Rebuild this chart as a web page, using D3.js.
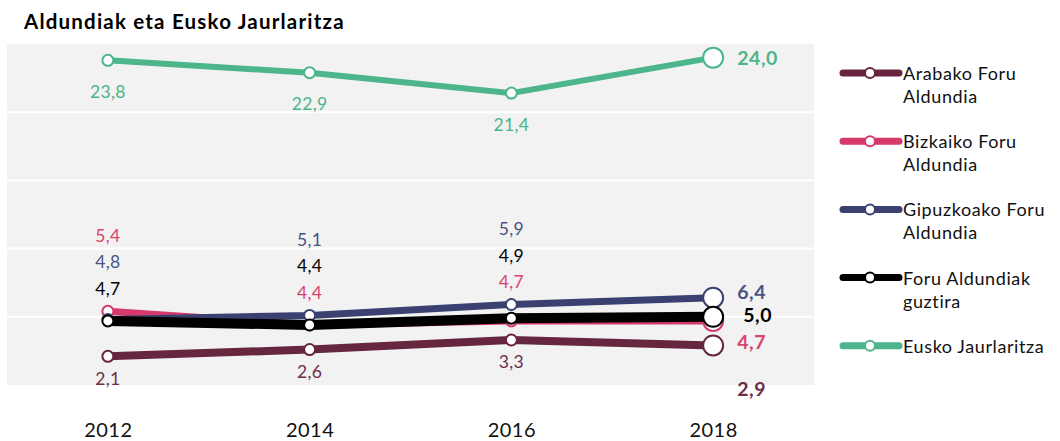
<!DOCTYPE html>
<html>
<head>
<meta charset="utf-8">
<script src="https://cdn.jsdelivr.net/npm/d3@7/dist/d3.min.js"></script>
<style>
  html, body { margin: 0; padding: 0; background: #fff; }
  svg { display: block; }
  text { font-family: "Lato", "DejaVu Sans", sans-serif; }
</style>
</head>
<body>
<script>
// ---- data ----
const years = ["2012", "2014", "2016", "2018"];
const seriesKeys = ["arabako", "bizkaiko", "gipuzkoako", "guztira", "jaurlaritza"];
const legendLabels = [
  ["Arabako Foru", "Aldundia"],
  ["Bizkaiko Foru", "Aldundia"],
  ["Gipuzkoako Foru", "Aldundia"],
  ["Foru Aldundiak", "guztira"],
  ["Eusko Jaurlaritza"]
];
const arabako = [2.1, 2.6, 3.3, 2.9];
const bizkaiko = [5.4, 4.4, 4.7, 4.7];
const gipuzkoako = [4.8, 5.1, 5.9, 6.4];
const guztira = [4.7, 4.4, 4.9, 5.0];
const jaurlaritza = [23.8, 22.9, 21.4, 24.0];
const yTicks = [0, 5, 10, 15, 20, 25];
const title = "Aldundiak eta Eusko Jaurlaritza";

// ---- styles ----
const values = { arabako, bizkaiko, gipuzkoako, guztira, jaurlaritza };
const colors = {
  arabako: "#66263f", bizkaiko: "#d63a6a", gipuzkoako: "#3a4170",
  guztira: "#000000", jaurlaritza: "#4cb58b"
};
const labelColors = {
  arabako: "#6e2d49", bizkaiko: "#d8446f", gipuzkoako: "#4a5282",
  guztira: "#000000", jaurlaritza: "#4cb58b"
};
const widths = { arabako: 8, bizkaiko: 7, gipuzkoako: 7, guztira: 10, jaurlaritza: 6 };
const drawOrder = ["jaurlaritza", "arabako", "bizkaiko", "gipuzkoako", "guztira"];
// end label nudges (layout only)
const endNudge = {
  jaurlaritza: [0, 0], gipuzkoako: [0, -6], guztira: [6, -2],
  bizkaiko: [0, 21], arabako: [0, 43]
};

const W = 1060, H = 441;
const svg = d3.select("body").append("svg").attr("width", W).attr("height", H);

const x = d3.scalePoint().domain(years).range([7, 814]).padding(0.5);
const y = d3.scaleLinear().domain([0, 25]).range([385, 44]);

// background
svg.append("rect").attr("x", 7).attr("y", y(25)).attr("width", 807)
  .attr("height", y(0) - y(25)).attr("fill", "#f2f2f2");

// grid
svg.append("g").selectAll("line").data(yTicks.filter(d => d > 0 && d < 25)).join("line")
  .attr("x1", 7).attr("x2", 814).attr("y1", d => y(d)).attr("y2", d => y(d))
  .attr("stroke", "#ffffff").attr("stroke-width", 2);

// title
svg.append("text").attr("x", 24).attr("y", 29).text(title)
  .attr("font-size", 20.5).attr("font-weight", 700).attr("fill", "#000")
  .attr("letter-spacing", 1.2);

// x axis
const xAxis = d3.axisBottom(x).tickSize(0).tickPadding(0);
const gx = svg.append("g").attr("transform", "translate(0,419)").call(xAxis);
gx.select(".domain").remove();
gx.selectAll("text").attr("font-size", 20).attr("fill", "#111")
  .attr("font-family", "Lato, sans-serif").attr("dy", "0.9em").attr("letter-spacing", 0.5);

const line = d3.line().x((d, i) => x(years[i])).y(d => y(d));
const last = years.length - 1;

drawOrder.forEach(k => {
  const g = svg.append("g");
  g.append("path").datum(values[k]).attr("d", line)
    .attr("fill", "none").attr("stroke", colors[k]).attr("stroke-width", widths[k])
    .attr("stroke-linejoin", "round");
  g.selectAll("circle").data(values[k]).join("circle")
    .attr("cx", (d, i) => x(years[i])).attr("cy", d => y(d))
    .attr("r", (d, i) => i === last ? 10 : 5.5)
    .attr("fill", "#fff").attr("stroke", colors[k]).attr("stroke-width", 2);
});

// intermediate labels
const fmt = v => d3.format(".1f")(v).replace(".", ",");
const lab = svg.append("g");
const stackKeys = ["gipuzkoako", "guztira", "bizkaiko"];
years.forEach((yr, i) => {
  if (i === last) return;
  const cx = x(yr);
  lab.append("text").attr("x", cx).attr("y", y(jaurlaritza[i]) + 31).text(fmt(jaurlaritza[i]))
    .attr("fill", labelColors.jaurlaritza);
  lab.append("text").attr("x", cx).attr("y", y(arabako[i]) + 22).text(fmt(arabako[i]))
    .attr("fill", labelColors.arabako);
  const sorted = stackKeys.slice().sort((a, b) =>
    d3.descending(values[a][i], values[b][i]) || stackKeys.indexOf(a) - stackKeys.indexOf(b));
  const top = y(d3.max(sorted, k => values[k][i])) - 76;
  sorted.forEach((k, j) => {
    lab.append("text").attr("x", cx).attr("y", top + j * 26.5).text(fmt(values[k][i]))
      .attr("fill", labelColors[k]);
  });
});
lab.selectAll("text").attr("text-anchor", "middle").attr("dominant-baseline", "central")
  .attr("font-size", 17.5).attr("letter-spacing", 0.3);

// end labels
const endG = svg.append("g");
seriesKeys.forEach(k => {
  const v = values[k][last];
  endG.append("text").attr("x", x(years[last]) + 24 + endNudge[k][0])
    .attr("y", y(v) + endNudge[k][1]).text(fmt(v))
    .attr("fill", labelColors[k]).attr("font-size", 19.5).attr("font-weight", 700)
    .attr("letter-spacing", 0.6)
    .attr("dominant-baseline", "central");
});

// legend
const leg = svg.append("g").attr("transform", "translate(843,73)");
seriesKeys.forEach((k, i) => {
  const g = leg.append("g").attr("transform", `translate(0,${i * 68.2})`);
  g.append("line").attr("x1", 0).attr("x2", 56).attr("y1", 0).attr("y2", 0)
    .attr("stroke", colors[k]).attr("stroke-width", 7).attr("stroke-linecap", "round");
  g.append("circle").attr("cx", 27).attr("cy", 0).attr("r", 5)
    .attr("fill", "#fff").attr("stroke", colors[k]).attr("stroke-width", 2);
  legendLabels[i].forEach((t, j) => {
    g.append("text").attr("x", 60).attr("y", j * 23).text(t)
      .attr("font-size", 18).attr("letter-spacing", 0.6)
      .attr("fill", "#111").attr("dominant-baseline", "central");
  });
});
</script>
</body>
</html>
